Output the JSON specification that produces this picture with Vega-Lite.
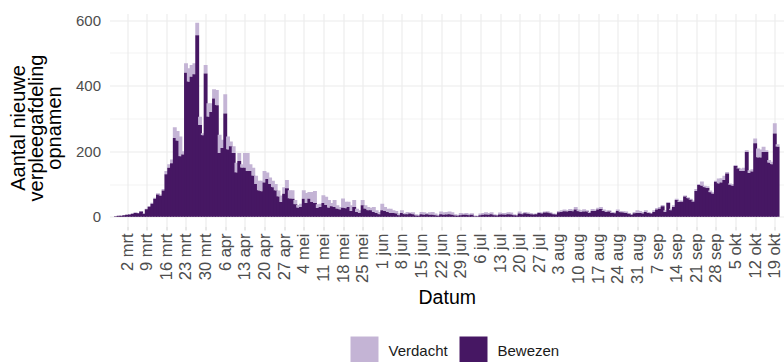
{
"$schema": "https://vega.github.io/schema/vega-lite/v6.json",
"width": 674.5,
"height": 213,
"autosize": {"type": "none"},
"padding": {"left": 109.5, "top": 13.5, "right": 0, "bottom": 135.5},
"background": "white",
"config": {"view": {"stroke": null}, "font": "Liberation Sans"},
"data": {"values": [
{"date":"2020-02-27","Bewezen":2,"Verdacht":0},{"date":"2020-02-28","Bewezen":3,"Verdacht":0},{"date":"2020-02-29","Bewezen":3,"Verdacht":0},
{"date":"2020-03-01","Bewezen":5,"Verdacht":0},{"date":"2020-03-02","Bewezen":6,"Verdacht":1},{"date":"2020-03-03","Bewezen":7,"Verdacht":1},{"date":"2020-03-04","Bewezen":9,"Verdacht":1},{"date":"2020-03-05","Bewezen":12,"Verdacht":2},{"date":"2020-03-06","Bewezen":11,"Verdacht":1},{"date":"2020-03-07","Bewezen":16,"Verdacht":2},{"date":"2020-03-08","Bewezen":9,"Verdacht":1},{"date":"2020-03-09","Bewezen":23,"Verdacht":2},{"date":"2020-03-10","Bewezen":31,"Verdacht":2},
{"date":"2020-03-11","Bewezen":40,"Verdacht":3},{"date":"2020-03-12","Bewezen":55,"Verdacht":3},{"date":"2020-03-13","Bewezen":68,"Verdacht":4},{"date":"2020-03-14","Bewezen":64,"Verdacht":4},{"date":"2020-03-15","Bewezen":80,"Verdacht":5},{"date":"2020-03-16","Bewezen":130,"Verdacht":10},{"date":"2020-03-17","Bewezen":150,"Verdacht":10},{"date":"2020-03-18","Bewezen":163,"Verdacht":12},{"date":"2020-03-19","Bewezen":240,"Verdacht":33},{"date":"2020-03-20","Bewezen":232,"Verdacht":30},
{"date":"2020-03-21","Bewezen":185,"Verdacht":60},{"date":"2020-03-22","Bewezen":190,"Verdacht":10},{"date":"2020-03-23","Bewezen":439,"Verdacht":29},{"date":"2020-03-24","Bewezen":412,"Verdacht":41},{"date":"2020-03-25","Bewezen":427,"Verdacht":36},{"date":"2020-03-26","Bewezen":435,"Verdacht":33},{"date":"2020-03-27","Bewezen":554,"Verdacht":38},{"date":"2020-03-28","Bewezen":280,"Verdacht":25},{"date":"2020-03-29","Bewezen":249,"Verdacht":6},{"date":"2020-03-30","Bewezen":437,"Verdacht":26},{"date":"2020-03-31","Bewezen":305,"Verdacht":41},
{"date":"2020-04-01","Bewezen":320,"Verdacht":26},{"date":"2020-04-02","Bewezen":361,"Verdacht":28},{"date":"2020-04-03","Bewezen":340,"Verdacht":47},{"date":"2020-04-04","Bewezen":195,"Verdacht":55},{"date":"2020-04-05","Bewezen":210,"Verdacht":25},{"date":"2020-04-06","Bewezen":315,"Verdacht":59},{"date":"2020-04-07","Bewezen":205,"Verdacht":40},{"date":"2020-04-08","Bewezen":215,"Verdacht":15},{"date":"2020-04-09","Bewezen":195,"Verdacht":20},{"date":"2020-04-10","Bewezen":135,"Verdacht":30},
{"date":"2020-04-11","Bewezen":170,"Verdacht":25},{"date":"2020-04-12","Bewezen":150,"Verdacht":10},{"date":"2020-04-13","Bewezen":150,"Verdacht":45},{"date":"2020-04-14","Bewezen":140,"Verdacht":55},{"date":"2020-04-15","Bewezen":140,"Verdacht":20},{"date":"2020-04-16","Bewezen":125,"Verdacht":25},{"date":"2020-04-17","Bewezen":100,"Verdacht":25},{"date":"2020-04-18","Bewezen":80,"Verdacht":30},{"date":"2020-04-19","Bewezen":78,"Verdacht":32},{"date":"2020-04-20","Bewezen":105,"Verdacht":35},
{"date":"2020-04-21","Bewezen":115,"Verdacht":20},{"date":"2020-04-22","Bewezen":100,"Verdacht":20},{"date":"2020-04-23","Bewezen":90,"Verdacht":20},{"date":"2020-04-24","Bewezen":80,"Verdacht":20},{"date":"2020-04-25","Bewezen":62,"Verdacht":18},{"date":"2020-04-26","Bewezen":45,"Verdacht":20},{"date":"2020-04-27","Bewezen":70,"Verdacht":20},{"date":"2020-04-28","Bewezen":87,"Verdacht":25},{"date":"2020-04-29","Bewezen":56,"Verdacht":25},{"date":"2020-04-30","Bewezen":55,"Verdacht":26},
{"date":"2020-05-01","Bewezen":38,"Verdacht":13},{"date":"2020-05-02","Bewezen":28,"Verdacht":8},{"date":"2020-05-03","Bewezen":30,"Verdacht":10},{"date":"2020-05-04","Bewezen":55,"Verdacht":26},{"date":"2020-05-05","Bewezen":42,"Verdacht":31},{"date":"2020-05-06","Bewezen":55,"Verdacht":21},{"date":"2020-05-07","Bewezen":45,"Verdacht":31},{"date":"2020-05-08","Bewezen":42,"Verdacht":37},{"date":"2020-05-09","Bewezen":27,"Verdacht":11},{"date":"2020-05-10","Bewezen":30,"Verdacht":10},
{"date":"2020-05-11","Bewezen":42,"Verdacht":24},{"date":"2020-05-12","Bewezen":36,"Verdacht":25},{"date":"2020-05-13","Bewezen":28,"Verdacht":23},{"date":"2020-05-14","Bewezen":32,"Verdacht":10},{"date":"2020-05-15","Bewezen":30,"Verdacht":21},{"date":"2020-05-16","Bewezen":25,"Verdacht":10},{"date":"2020-05-17","Bewezen":22,"Verdacht":8},{"date":"2020-05-18","Bewezen":28,"Verdacht":28},{"date":"2020-05-19","Bewezen":26,"Verdacht":20},{"date":"2020-05-20","Bewezen":30,"Verdacht":16},
{"date":"2020-05-21","Bewezen":18,"Verdacht":17},{"date":"2020-05-22","Bewezen":30,"Verdacht":21},{"date":"2020-05-23","Bewezen":15,"Verdacht":10},{"date":"2020-05-24","Bewezen":12,"Verdacht":8},{"date":"2020-05-25","Bewezen":35,"Verdacht":16},{"date":"2020-05-26","Bewezen":25,"Verdacht":10},{"date":"2020-05-27","Bewezen":20,"Verdacht":10},{"date":"2020-05-28","Bewezen":20,"Verdacht":8},{"date":"2020-05-29","Bewezen":15,"Verdacht":15},{"date":"2020-05-30","Bewezen":12,"Verdacht":8},{"date":"2020-05-31","Bewezen":8,"Verdacht":7},
{"date":"2020-06-01","Bewezen":20,"Verdacht":20},{"date":"2020-06-02","Bewezen":18,"Verdacht":12},{"date":"2020-06-03","Bewezen":15,"Verdacht":10},{"date":"2020-06-04","Bewezen":12,"Verdacht":13},{"date":"2020-06-05","Bewezen":12,"Verdacht":8},{"date":"2020-06-06","Bewezen":10,"Verdacht":8},{"date":"2020-06-07","Bewezen":5,"Verdacht":5},{"date":"2020-06-08","Bewezen":12,"Verdacht":8},{"date":"2020-06-09","Bewezen":8,"Verdacht":4},{"date":"2020-06-10","Bewezen":8,"Verdacht":7},
{"date":"2020-06-11","Bewezen":10,"Verdacht":3},{"date":"2020-06-12","Bewezen":8,"Verdacht":6},{"date":"2020-06-13","Bewezen":4,"Verdacht":4},{"date":"2020-06-14","Bewezen":3,"Verdacht":3},{"date":"2020-06-15","Bewezen":8,"Verdacht":7},{"date":"2020-06-16","Bewezen":6,"Verdacht":8},{"date":"2020-06-17","Bewezen":8,"Verdacht":4},{"date":"2020-06-18","Bewezen":6,"Verdacht":8},{"date":"2020-06-19","Bewezen":6,"Verdacht":9},{"date":"2020-06-20","Bewezen":5,"Verdacht":5},
{"date":"2020-06-21","Bewezen":3,"Verdacht":3},{"date":"2020-06-22","Bewezen":8,"Verdacht":8},{"date":"2020-06-23","Bewezen":6,"Verdacht":8},{"date":"2020-06-24","Bewezen":7,"Verdacht":8},{"date":"2020-06-25","Bewezen":8,"Verdacht":8},{"date":"2020-06-26","Bewezen":6,"Verdacht":8},{"date":"2020-06-27","Bewezen":4,"Verdacht":4},{"date":"2020-06-28","Bewezen":3,"Verdacht":3},{"date":"2020-06-29","Bewezen":5,"Verdacht":7},{"date":"2020-06-30","Bewezen":6,"Verdacht":4},
{"date":"2020-07-01","Bewezen":6,"Verdacht":6},{"date":"2020-07-02","Bewezen":5,"Verdacht":4},{"date":"2020-07-03","Bewezen":6,"Verdacht":5},{"date":"2020-07-04","Bewezen":2,"Verdacht":2},{"date":"2020-07-05","Bewezen":2,"Verdacht":1},{"date":"2020-07-06","Bewezen":5,"Verdacht":5},{"date":"2020-07-07","Bewezen":6,"Verdacht":6},{"date":"2020-07-08","Bewezen":7,"Verdacht":7},{"date":"2020-07-09","Bewezen":6,"Verdacht":6},{"date":"2020-07-10","Bewezen":8,"Verdacht":6},
{"date":"2020-07-11","Bewezen":5,"Verdacht":3},{"date":"2020-07-12","Bewezen":4,"Verdacht":2},{"date":"2020-07-13","Bewezen":7,"Verdacht":6},{"date":"2020-07-14","Bewezen":7,"Verdacht":5},{"date":"2020-07-15","Bewezen":6,"Verdacht":6},{"date":"2020-07-16","Bewezen":8,"Verdacht":6},{"date":"2020-07-17","Bewezen":7,"Verdacht":6},{"date":"2020-07-18","Bewezen":5,"Verdacht":3},{"date":"2020-07-19","Bewezen":4,"Verdacht":2},{"date":"2020-07-20","Bewezen":10,"Verdacht":6},
{"date":"2020-07-21","Bewezen":8,"Verdacht":4},{"date":"2020-07-22","Bewezen":11,"Verdacht":4},{"date":"2020-07-23","Bewezen":9,"Verdacht":4},{"date":"2020-07-24","Bewezen":8,"Verdacht":4},{"date":"2020-07-25","Bewezen":7,"Verdacht":2},{"date":"2020-07-26","Bewezen":8,"Verdacht":2},{"date":"2020-07-27","Bewezen":12,"Verdacht":3},{"date":"2020-07-28","Bewezen":10,"Verdacht":3},{"date":"2020-07-29","Bewezen":13,"Verdacht":3},{"date":"2020-07-30","Bewezen":13,"Verdacht":4},{"date":"2020-07-31","Bewezen":11,"Verdacht":3},
{"date":"2020-08-01","Bewezen":8,"Verdacht":2},{"date":"2020-08-02","Bewezen":7,"Verdacht":2},{"date":"2020-08-03","Bewezen":14,"Verdacht":4},{"date":"2020-08-04","Bewezen":15,"Verdacht":5},{"date":"2020-08-05","Bewezen":17,"Verdacht":5},{"date":"2020-08-06","Bewezen":16,"Verdacht":4},{"date":"2020-08-07","Bewezen":18,"Verdacht":6},{"date":"2020-08-08","Bewezen":17,"Verdacht":5},{"date":"2020-08-09","Bewezen":22,"Verdacht":8},{"date":"2020-08-10","Bewezen":17,"Verdacht":5},
{"date":"2020-08-11","Bewezen":15,"Verdacht":5},{"date":"2020-08-12","Bewezen":16,"Verdacht":7},{"date":"2020-08-13","Bewezen":16,"Verdacht":4},{"date":"2020-08-14","Bewezen":12,"Verdacht":3},{"date":"2020-08-15","Bewezen":18,"Verdacht":6},{"date":"2020-08-16","Bewezen":18,"Verdacht":4},{"date":"2020-08-17","Bewezen":22,"Verdacht":6},{"date":"2020-08-18","Bewezen":24,"Verdacht":6},{"date":"2020-08-19","Bewezen":18,"Verdacht":4},{"date":"2020-08-20","Bewezen":15,"Verdacht":4},
{"date":"2020-08-21","Bewezen":16,"Verdacht":4},{"date":"2020-08-22","Bewezen":12,"Verdacht":3},{"date":"2020-08-23","Bewezen":11,"Verdacht":3},{"date":"2020-08-24","Bewezen":18,"Verdacht":4},{"date":"2020-08-25","Bewezen":14,"Verdacht":4},{"date":"2020-08-26","Bewezen":13,"Verdacht":4},{"date":"2020-08-27","Bewezen":12,"Verdacht":4},{"date":"2020-08-28","Bewezen":9,"Verdacht":3},{"date":"2020-08-29","Bewezen":6,"Verdacht":2},{"date":"2020-08-30","Bewezen":11,"Verdacht":4},{"date":"2020-08-31","Bewezen":12,"Verdacht":8},
{"date":"2020-09-01","Bewezen":12,"Verdacht":6},{"date":"2020-09-02","Bewezen":10,"Verdacht":5},{"date":"2020-09-03","Bewezen":15,"Verdacht":5},{"date":"2020-09-04","Bewezen":12,"Verdacht":3},{"date":"2020-09-05","Bewezen":10,"Verdacht":2},{"date":"2020-09-06","Bewezen":15,"Verdacht":5},{"date":"2020-09-07","Bewezen":22,"Verdacht":5},{"date":"2020-09-08","Bewezen":25,"Verdacht":5},{"date":"2020-09-09","Bewezen":32,"Verdacht":4},{"date":"2020-09-10","Bewezen":15,"Verdacht":5},
{"date":"2020-09-11","Bewezen":42,"Verdacht":3},{"date":"2020-09-12","Bewezen":20,"Verdacht":5},{"date":"2020-09-13","Bewezen":30,"Verdacht":5},{"date":"2020-09-14","Bewezen":51,"Verdacht":4},{"date":"2020-09-15","Bewezen":45,"Verdacht":5},{"date":"2020-09-16","Bewezen":46,"Verdacht":4},{"date":"2020-09-17","Bewezen":62,"Verdacht":3},{"date":"2020-09-18","Bewezen":57,"Verdacht":3},{"date":"2020-09-19","Bewezen":52,"Verdacht":3},{"date":"2020-09-20","Bewezen":46,"Verdacht":4},
{"date":"2020-09-21","Bewezen":79,"Verdacht":6},{"date":"2020-09-22","Bewezen":97,"Verdacht":3},{"date":"2020-09-23","Bewezen":95,"Verdacht":13},{"date":"2020-09-24","Bewezen":90,"Verdacht":5},{"date":"2020-09-25","Bewezen":88,"Verdacht":5},{"date":"2020-09-26","Bewezen":75,"Verdacht":5},{"date":"2020-09-27","Bewezen":70,"Verdacht":5},{"date":"2020-09-28","Bewezen":107,"Verdacht":3},{"date":"2020-09-29","Bewezen":102,"Verdacht":15},{"date":"2020-09-30","Bewezen":105,"Verdacht":13},
{"date":"2020-10-01","Bewezen":112,"Verdacht":13},{"date":"2020-10-02","Bewezen":132,"Verdacht":5},{"date":"2020-10-03","Bewezen":98,"Verdacht":4},{"date":"2020-10-04","Bewezen":95,"Verdacht":5},{"date":"2020-10-05","Bewezen":155,"Verdacht":3},{"date":"2020-10-06","Bewezen":147,"Verdacht":3},{"date":"2020-10-07","Bewezen":140,"Verdacht":7},{"date":"2020-10-08","Bewezen":140,"Verdacht":10},{"date":"2020-10-09","Bewezen":198,"Verdacht":5},{"date":"2020-10-10","Bewezen":134,"Verdacht":8},
{"date":"2020-10-11","Bewezen":138,"Verdacht":7},{"date":"2020-10-12","Bewezen":224,"Verdacht":15},{"date":"2020-10-13","Bewezen":181,"Verdacht":27},{"date":"2020-10-14","Bewezen":181,"Verdacht":24},{"date":"2020-10-15","Bewezen":198,"Verdacht":16},{"date":"2020-10-16","Bewezen":198,"Verdacht":5},{"date":"2020-10-17","Bewezen":165,"Verdacht":8},{"date":"2020-10-18","Bewezen":160,"Verdacht":8},{"date":"2020-10-19","Bewezen":254,"Verdacht":31},{"date":"2020-10-20","Bewezen":214,"Verdacht":7}
]},
"transform": [{"fold": ["Verdacht", "Bewezen"], "as": ["type", "value"]}],
"mark": {"type": "bar", "width": 3.9, "clip": true},
"encoding": {
  "x": {
    "field": "date", "type": "temporal",
    "scale": {"type": "utc", "domain": [{"year": 2020, "month": 2, "date": 26, "hours": 12, "utc": true}, {"year": 2020, "month": 10, "date": 20, "hours": 12, "utc": true}]},
    "axis": {
      "values": [
        {"year":2020,"month":3,"date":2,"utc":true},{"year":2020,"month":3,"date":9,"utc":true},{"year":2020,"month":3,"date":16,"utc":true},{"year":2020,"month":3,"date":23,"utc":true},{"year":2020,"month":3,"date":30,"utc":true},
        {"year":2020,"month":4,"date":6,"utc":true},{"year":2020,"month":4,"date":13,"utc":true},{"year":2020,"month":4,"date":20,"utc":true},{"year":2020,"month":4,"date":27,"utc":true},
        {"year":2020,"month":5,"date":4,"utc":true},{"year":2020,"month":5,"date":11,"utc":true},{"year":2020,"month":5,"date":18,"utc":true},{"year":2020,"month":5,"date":25,"utc":true},
        {"year":2020,"month":6,"date":1,"utc":true},{"year":2020,"month":6,"date":8,"utc":true},{"year":2020,"month":6,"date":15,"utc":true},{"year":2020,"month":6,"date":22,"utc":true},{"year":2020,"month":6,"date":29,"utc":true},
        {"year":2020,"month":7,"date":6,"utc":true},{"year":2020,"month":7,"date":13,"utc":true},{"year":2020,"month":7,"date":20,"utc":true},{"year":2020,"month":7,"date":27,"utc":true},
        {"year":2020,"month":8,"date":3,"utc":true},{"year":2020,"month":8,"date":10,"utc":true},{"year":2020,"month":8,"date":17,"utc":true},{"year":2020,"month":8,"date":24,"utc":true},{"year":2020,"month":8,"date":31,"utc":true},
        {"year":2020,"month":9,"date":7,"utc":true},{"year":2020,"month":9,"date":14,"utc":true},{"year":2020,"month":9,"date":21,"utc":true},{"year":2020,"month":9,"date":28,"utc":true},
        {"year":2020,"month":10,"date":5,"utc":true},{"year":2020,"month":10,"date":12,"utc":true},{"year":2020,"month":10,"date":19,"utc":true}
      ],
      "labelExpr": "utcdate(datum.value) + ' ' + ['jan','feb','mrt','apr','mei','jun','jul','aug','sep','okt','nov','dec'][utcmonth(datum.value)]",
      "labelAngle": -90,
      "labelFontSize": 16.5,
      "labelColor": "#4d4d4d",
      "labelPadding": 3,
      "labelOverlap": false,
      "labelFlush": false,
      "tickSize": 3.5,
      "tickColor": "#d0d0d0",
      "tickWidth": 1,
      "domain": false,
      "grid": true,
      "gridColor": "#ebebeb",
      "gridWidth": 1.1,
      "title": "Datum",
      "titleFontSize": 19.5,
      "titleFontWeight": "normal",
      "titleColor": "#000000",
      "titlePadding": 5
    }
  },
  "y": {
    "field": "value", "type": "quantitative", "stack": "zero",
    "scale": {"domain": [-29.5, 620], "nice": false, "zero": false},
    "axis": {
      "values": [0, 100, 200, 300, 400, 500, 600],
      "labelExpr": "datum.value % 200 === 0 ? datum.label : ''",
      "gridColor": "#ebebeb",
      "gridWidth": {"condition": {"test": "datum.value % 200 === 0", "value": 1.1}, "value": 0.6},
      "domain": false,
      "ticks": false,
      "labelPadding": 9,
      "labelFontSize": 15,
      "labelColor": "#4d4d4d",
      "title": ["Aantal nieuwe", "verpleegafdeling", "opnamen"],
      "titleFontSize": 20,
      "titleFontWeight": "normal",
      "titleColor": "#000000",
      "titleLineHeight": 18,
      "titlePadding": 11,
      "titleY": 114
    }
  },
  "color": {
    "field": "type", "type": "nominal",
    "scale": {"domain": ["Verdacht", "Bewezen"], "range": ["#c4b4d5", "#461763"]},
    "legend": {
      "orient": "none", "legendX": 241, "legendY": 323,
      "direction": "horizontal", "title": null,
      "symbolType": "square", "symbolSize": 784, "symbolStrokeWidth": 0, "symbolOpacity": 1,
      "labelFontSize": 15, "labelColor": "#1a1a1a", "labelOffset": 10,
      "columnPadding": 11, "padding": 0
    }
  },
  "order": {"field": "type", "sort": "ascending"}
}
}
